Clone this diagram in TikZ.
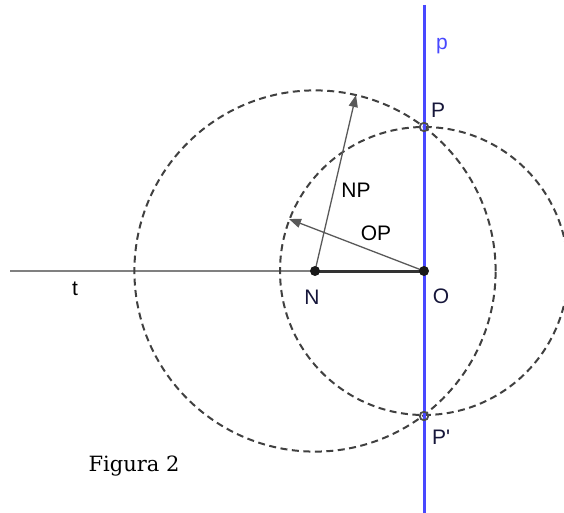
\documentclass[tikz,border=0pt]{standalone}
\usepackage{fontspec}
\setmainfont{Liberation Sans}
\newfontfamily\capfont{DejaVu Serif}
\usetikzlibrary{arrows.meta, calc}
\definecolor{lineP}{RGB}{72,72,255}
\definecolor{ptlab}{RGB}{22,22,58}
\colorlet{circ}{black!75}
\colorlet{vec}{black!65}
\colorlet{axis}{black!50}
\tikzset{
  x=1pt, y=-1pt,
  lab/.style     ={font=\fontsize{21}{25}\selectfont, inner sep=0pt},
  ptlabel/.style ={lab, text=ptlab},
  dashcirc/.style={circ, line width=2pt, dash pattern=on 7pt off 4.5pt},
  vecarrow/.style={-{Triangle[length=12pt, width=9pt]}, vec, line width=1.3pt},
  ptfull/.style  ={circle, fill=black!90, inner sep=0pt, minimum size=10pt},
  ptopen/.style  ={circle, draw=black!70, line width=1.8pt, inner sep=0pt,
                   minimum size=8.5pt},
}
\begin{document}
\begin{tikzpicture}
\useasboundingbox (0,0) rectangle (564,513);
\clip (0,0) rectangle (564,513);

% --- points ---
\coordinate (N)   at (315,271);
\coordinate (O)   at (424,271);
\coordinate (P)   at (424,127);
\coordinate (P')  at (424,416);
\coordinate (tL)  at (10,271);
\coordinate (pT)  at (424,5);
\coordinate (pB)  at (424,513);
\coordinate (NPe) at (356,95);
\coordinate (OPe) at (289,219);

% --- line t and segment NO ---
\draw[axis, line width=1.6pt] (tL) -- (O);
\draw[black!80, line width=3pt] (N) -- (O);

% --- circles through P and P' ---
\draw[dashcirc] let \p1 = ($(P)-(N)$) in (N) circle [radius={veclen(\x1,\y1)}];
\draw[dashcirc] let \p1 = ($(P)-(O)$) in (O) circle [radius={veclen(\x1,\y1)}];

% --- vectors ---
\draw[vecarrow] (N) -- (NPe);
\draw[vecarrow] (O) -- (OPe);

% --- line p ---
\draw[lineP, line width=3pt] (pT) -- (pB);

% --- points on top ---
\node[ptfull] (nN) at (N) {};
\node[ptfull] (nO) at (O) {};
\node[ptopen] (nP) at (P) {};
\node[ptopen] (nP') at (P') {};

% --- labels ---
\node[lab, text=lineP] (lp) at (442,46) {p};
\node[ptlabel] (lP)  at (438,110) {P};
\node[ptlabel] (lN)  at (312,297) {N};
\node[ptlabel] (lO)  at (441,296) {O};
\node[ptlabel] (lP') at (441,437) {P\textquotesingle};
\node[lab] (lt)  at (75,289) {t};
\node[lab] (lNP) at (356,190) {NP};
\node[lab] (lOP) at (376,233) {OP};
\node[font=\capfont\fontsize{21}{25}\selectfont, inner sep=0pt]
     (cap) at (134,466) {Figura 2};

\end{tikzpicture}
\end{document}
